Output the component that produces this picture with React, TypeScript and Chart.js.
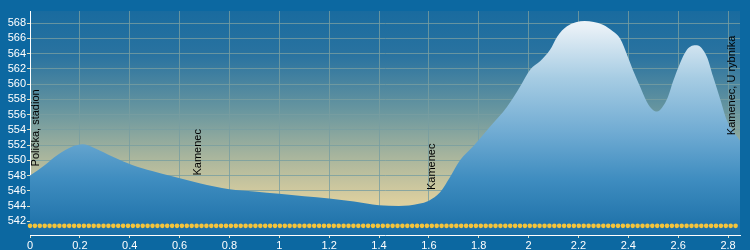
import React, { useEffect, useRef } from "react";
import { Chart, registerables } from "chart.js";

Chart.register(...registerables);

// Route profile: distance (km) and elevation (m)
const distances = [
  0, 0.06, 0.11, 0.17, 0.21, 0.26, 0.33, 0.41, 0.49, 0.57, 0.68, 0.8, 0.9, 1.0,
  1.1, 1.2, 1.3, 1.4, 1.48, 1.56, 1.6, 1.645, 1.685, 1.725, 1.777, 1.845, 1.913,
  1.966, 2.006, 2.046, 2.086, 2.114, 2.154, 2.225, 2.298, 2.339, 2.367, 2.398,
  2.418, 2.447, 2.474, 2.499, 2.515, 2.535, 2.559, 2.58, 2.635, 2.675, 2.715,
  2.74, 2.77, 2.795, 2.848,
];
const elevations = [
  548.0, 549.4, 550.7, 551.8, 552.1, 551.6, 550.5, 549.4, 548.6, 547.9, 547.0,
  546.2, 545.9, 545.6, 545.3, 545.0, 544.6, 544.1, 544.0, 544.3, 544.7, 545.8,
  547.8, 550.0, 551.8, 554.4, 557.0, 559.7, 561.9, 563.0, 564.5, 566.2, 567.6,
  568.3, 567.8, 566.9, 566.0, 563.6, 561.9, 559.7, 557.7, 556.6, 556.4, 556.9,
  558.3, 560.4, 564.5, 565.1, 563.6, 561.0, 557.9, 555.3, 552.6,
];

// Waypoint labels
const waypointNames = ["Polička, stadion", "Kamenec", "Kamenec", "Kamenec, U rybníka"];
const waypointDist = [0, 0.652, 1.592, 2.795];
const waypointElev = [549.2, 548.0, 546.1, 553.3];

// Axis ranges and ticks
const xMin = 0;
const xMax = 2.848;
const xStep = 0.2;
const yMin = 540.2;
const yMax = 569.6;
const yStep = 2;
const markerElev = 541.4;

const FONT = "'Liberation Sans', Arial, sans-serif";

const backgroundPlugin = {
  id: "bgPlugin",
  beforeDraw(chart: any) {
    const { ctx, chartArea, width, height } = chart;
    ctx.save();
    ctx.fillStyle = "#0c68a1";
    ctx.fillRect(0, 0, width, height);
    if (chartArea) {
      const g = ctx.createLinearGradient(0, chartArea.top, 0, chartArea.bottom);
      g.addColorStop(0, "#196b9f");
      g.addColorStop(0.2, "#2a73a0");
      g.addColorStop(0.45, "#6a979f");
      g.addColorStop(0.65, "#a8b59d");
      g.addColorStop(0.85, "#dccf9f");
      g.addColorStop(1, "#ead9a2");
      ctx.fillStyle = g;
      ctx.fillRect(chartArea.left, chartArea.top, chartArea.right - chartArea.left, chartArea.bottom - chartArea.top);
    }
    ctx.restore();
  },
};

const labelsPlugin = {
  id: "wpLabels",
  afterDatasetsDraw(chart: any) {
    const { ctx } = chart;
    const xs = chart.scales.x;
    const ys = chart.scales.y;
    ctx.save();
    ctx.fillStyle = "#000";
    ctx.font = `11px ${FONT}`;
    ctx.textAlign = "left";
    ctx.textBaseline = "top";
    waypointNames.forEach((name, i) => {
      const px = xs.getPixelForValue(waypointDist[i]);
      const py = ys.getPixelForValue(waypointElev[i]);
      ctx.save();
      ctx.translate(px, py);
      ctx.rotate(-Math.PI / 2);
      ctx.fillText(name, 0, 0);
      ctx.restore();
    });
    ctx.restore();
  },
};

export default function App() {
  const ref = useRef<HTMLCanvasElement | null>(null);

  useEffect(() => {
    document.body.style.margin = "0";
    const canvas = ref.current;
    if (!canvas) return;

    const chart = new Chart(canvas, {
      type: "line",
      data: {
        datasets: [
          {
            data: [
              { x: xMin, y: markerElev },
              { x: xMax, y: markerElev },
            ],
            borderColor: "#f4c43c",
            borderWidth: 4.6,
            borderDash: [0, 4.9],
            borderCapStyle: "round",
            pointRadius: 0,
            fill: false,
            clip: false,
            order: 0,
          } as any,
          {
            data: distances.map((d, i) => ({ x: d, y: elevations[i] })),
            borderWidth: 0,
            borderColor: "rgba(0,0,0,0)",
            pointRadius: 0,
            cubicInterpolationMode: "monotone",
            fill: "start",
            order: 1,
            backgroundColor: (c: any) => {
              const { chart } = c;
              const { ctx, chartArea } = chart;
              if (!chartArea) return "#4f9cc8";
              const g = ctx.createLinearGradient(0, chartArea.top, 0, chartArea.bottom);
              g.addColorStop(0, "#f4f8fb");
              g.addColorStop(0.08, "#e6eff6");
              g.addColorStop(0.3, "#a6cce3");
              g.addColorStop(0.55, "#6eaad2");
              g.addColorStop(0.75, "#3f8dc0");
              g.addColorStop(1, "#1a6ea6");
              return g;
            },
          } as any,
        ],
      },
      options: {
        responsive: false,
        animation: false,
        events: [],
        layout: { padding: { top: 11, right: 10, left: 0, bottom: 0 } },
        plugins: {
          legend: { display: false },
          tooltip: { enabled: false },
        },
        scales: {
          x: {
            type: "linear",
            min: xMin,
            max: xMax,
            afterFit: (s: any) => {
              s.height = 15;
            },
            ticks: {
              stepSize: xStep,
              includeBounds: false,
              autoSkip: false,
              maxRotation: 0,
              color: "#ffffff",
              padding: 1,
              font: { family: FONT, size: 11 },
              callback: (v: any) => String(Number(Number(v).toFixed(1))),
            },
            grid: {
              color: "rgba(120,158,160,0.8)",
              tickColor: "#e6e2c0",
              tickLength: 3,
              lineWidth: 1,
            },
            border: { color: "#ffffff", width: 1 },
          },
          y: {
            type: "linear",
            min: yMin,
            max: yMax,
            afterFit: (s: any) => {
              s.width = 30;
            },
            ticks: {
              stepSize: yStep,
              includeBounds: false,
              color: "#ffffff",
              padding: 1,
              font: { family: FONT, size: 11 },
            },
            grid: {
              color: "rgba(120,158,160,0.8)",
              tickColor: "#e6e2c0",
              tickLength: 3,
              lineWidth: 1,
            },
            border: { color: "#ffffff", width: 1 },
          },
        },
      } as any,
      plugins: [backgroundPlugin, labelsPlugin],
    });

    return () => chart.destroy();
  }, []);

  return (
    <div style={{ width: 750, height: 250 }}>
      <canvas ref={ref} width={750} height={250} style={{ display: "block" }} />
    </div>
  );
}
